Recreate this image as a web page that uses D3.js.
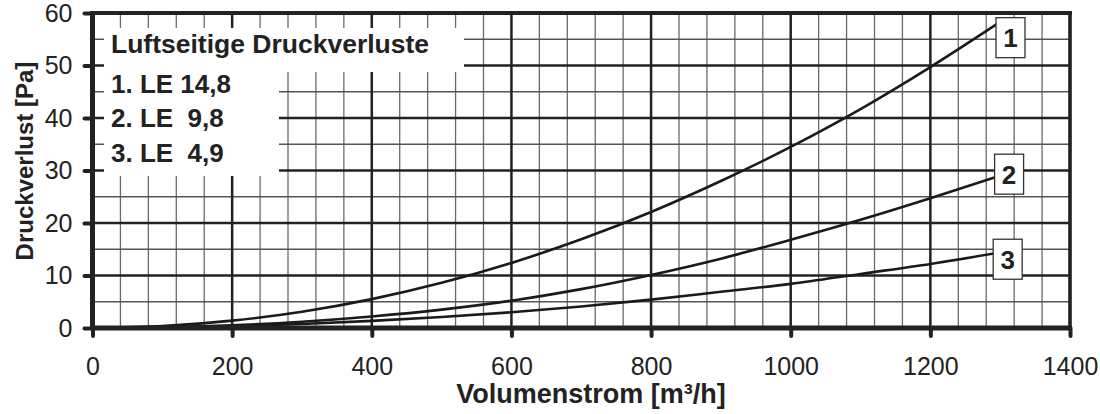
<!DOCTYPE html>
<html>
<head>
<meta charset="utf-8">
<script src="https://cdn.jsdelivr.net/npm/d3@7"></script>
<style>
  html, body { margin: 0; padding: 0; background: #fff; }
  svg { display: block; font-family: "Liberation Sans", Arial, sans-serif; }
</style>
</head>
<body>
<svg id="chart" width="1100" height="414"></svg>
<script>
// ---- data ----
const volumeFlow = [0, 100, 200, 300, 400, 500, 600, 700, 800, 900, 1000, 1100, 1200, 1300];
const seriesLE148 = [0, 0.35, 1.4, 3.1, 5.5, 8.6, 12.4, 16.9, 22.1, 28.0, 34.5, 41.7, 49.7, 58.3];
const seriesLE98  = [0, 0.13, 0.5, 1.2, 2.2, 3.5, 5.2, 7.4, 10.1, 13.2, 16.8, 20.6, 24.7, 29.0];
const seriesLE49  = [0, 0.08, 0.34, 0.77, 1.36, 2.1, 3.0, 4.1, 5.4, 6.9, 8.4, 10.3, 12.2, 14.4];
const seriesNames = ["1", "2", "3"];
const labelX = [1294, 1292, 1290];
const labelY = [55.3, 29.3, 13.1];
const xTicks = [0, 200, 400, 600, 800, 1000, 1200, 1400];
const yTicks = [0, 10, 20, 30, 40, 50, 60];
const legendTitle = "Luftseitige Druckverluste";
const legendItems = ["1. LE 14,8", "2. LE  9,8", "3. LE  4,9"];
const xTitle = "Volumenstrom [m³/h]";
const yTitle = "Druckverlust [Pa]";

// ---- layout ----
const svg = d3.select("#chart");
const x = d3.scaleLinear().domain([0, 1400]).range([92.5, 1070]);
const y = d3.scaleLinear().domain([0, 60]).range([328, 13]);
const ink = "#222";

// minor grid
const xMinor = d3.range(0, 1401, 40).filter(v => v % 200 !== 0);
const yMinor = d3.range(0, 61, 5).filter(v => v % 10 !== 0);
const g = svg.append("g");
g.selectAll(".xm").data(xMinor).enter().append("line")
  .attr("x1", d => x(d)).attr("x2", d => x(d)).attr("y1", y(0)).attr("y2", y(60))
  .attr("stroke", "#6a6a6a").attr("stroke-width", 1.3);
g.selectAll(".ym").data(yMinor).enter().append("line")
  .attr("x1", x(0)).attr("x2", x(1400)).attr("y1", d => y(d)).attr("y2", d => y(d))
  .attr("stroke", "#555").attr("stroke-width", 1.3);
// major grid
g.selectAll(".xM").data(xTicks).enter().append("line")
  .attr("x1", d => x(d)).attr("x2", d => x(d)).attr("y1", y(0)).attr("y2", y(60))
  .attr("stroke", ink).attr("stroke-width", 2.5);
g.selectAll(".yM").data(yTicks).enter().append("line")
  .attr("x1", x(0)).attr("x2", x(1400)).attr("y1", d => y(d)).attr("y2", d => y(d))
  .attr("stroke", ink).attr("stroke-width", 2.5);

// legend white area
svg.append("rect").attr("x", 104).attr("y", 28).attr("width", 360).attr("height", 44).attr("fill", "#fff");
svg.append("rect").attr("x", 104).attr("y", 70).attr("width", 175).attr("height", 106).attr("fill", "#fff");

// curves
const series = [seriesLE148, seriesLE98, seriesLE49];
const line = d3.line().x((d, i) => x(volumeFlow[i])).y(d => y(d)).curve(d3.curveMonotoneX);
svg.selectAll(".curve").data(series).enter().append("path")
  .attr("d", d => line(d)).attr("fill", "none").attr("stroke", "#1a1a1a").attr("stroke-width", 2.6);

// axes
const yAxis = d3.axisLeft(y).tickValues(yTicks).tickSize(8).tickPadding(12).tickFormat(d3.format("d"));
const xAxis = d3.axisBottom(x).tickValues(xTicks).tickSize(8).tickPadding(21).tickFormat(d3.format("d"));
const ya = svg.append("g").attr("transform", `translate(${x(0)},0)`).call(yAxis);
const xa = svg.append("g").attr("transform", `translate(0,${y(0)})`).call(xAxis);
[ya, xa].forEach(a => {
  a.select(".domain").remove();
  a.selectAll(".tick line").attr("stroke", ink).attr("stroke-width", 4).attr("stroke-linecap", "round");
  a.selectAll(".tick text").attr("fill", ink).style("font-size", "25px").style("font-family", "'Liberation Sans', Arial, sans-serif");
});

// frame
svg.append("line").attr("x1", x(0)).attr("x2", x(0)).attr("y1", y(60) - 2).attr("y2", y(0) + 2)
  .attr("stroke", ink).attr("stroke-width", 5);
svg.append("line").attr("x1", x(0)).attr("x2", x(1400) + 2).attr("y1", y(0)).attr("y2", y(0))
  .attr("stroke", ink).attr("stroke-width", 5);
svg.append("line").attr("x1", x(0)).attr("x2", x(1400) + 2).attr("y1", y(60)).attr("y2", y(60))
  .attr("stroke", ink).attr("stroke-width", 4);
svg.append("line").attr("x1", x(1400)).attr("x2", x(1400)).attr("y1", y(60)).attr("y2", y(0))
  .attr("stroke", ink).attr("stroke-width", 3.5);

// series label boxes
const lb = svg.selectAll(".lbl").data(seriesNames).enter().append("g");
lb.append("rect")
  .attr("x", (d, i) => x(labelX[i])).attr("y", (d, i) => y(labelY[i]) - 20)
  .attr("width", 29).attr("height", 40)
  .attr("fill", "#fff").attr("stroke", "#333").attr("stroke-width", 1.3);
lb.append("text")
  .attr("x", (d, i) => x(labelX[i]) + 14.5).attr("y", (d, i) => y(labelY[i]) + 9.5)
  .attr("text-anchor", "middle").attr("font-weight", "bold").attr("font-size", 26).attr("fill", ink)
  .text(d => d);

// legend text
svg.append("text").attr("x", 111).attr("y", 53.3).attr("font-weight", "bold").attr("font-size", 26.5)
  .attr("fill", ink).text(legendTitle);
svg.selectAll(".li").data(legendItems).enter().append("text")
  .attr("x", 111).attr("y", (d, i) => 92.7 + i * 34.5)
  .attr("font-weight", "bold").attr("font-size", 26).attr("fill", ink)
  .style("white-space", "pre").text(d => d);

// axis titles
svg.append("text").attr("x", 591).attr("y", 403).attr("text-anchor", "middle")
  .attr("font-weight", "bold").attr("font-size", 27).attr("fill", ink).text(xTitle);
svg.append("text").attr("transform", "translate(33,161) rotate(-90)").attr("text-anchor", "middle")
  .attr("font-weight", "bold").attr("font-size", 24).attr("fill", ink).text(yTitle);
</script>
</body>
</html>
